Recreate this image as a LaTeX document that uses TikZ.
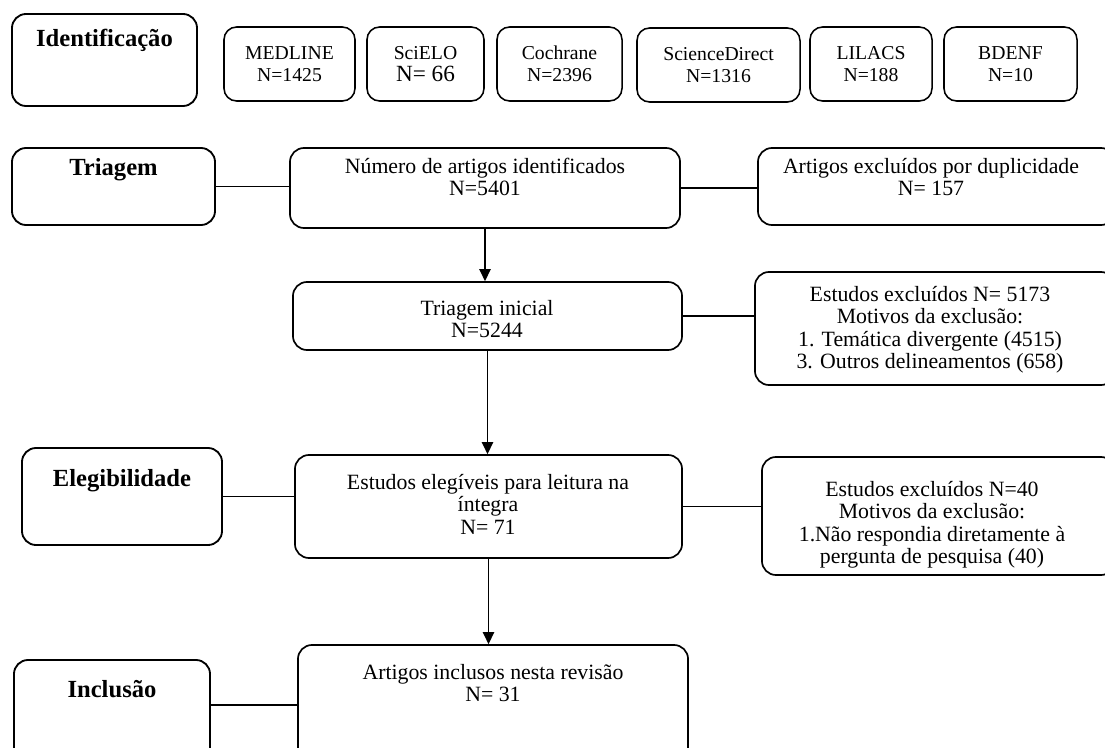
\documentclass[tikz,border=0pt]{standalone}
\usepackage{fontspec}
\setmainfont{Liberation Serif}
\usetikzlibrary{arrows.meta}
\tikzset{
    stage/.style={rectangle, draw, line width=1.3pt, rounded corners=10pt, inner sep=0},
    base/.style={rectangle, draw, line width=1.1pt, rounded corners=9pt,
                minimum height = 1.85cm, inner sep = 0},
    flow/.style={rectangle, draw, line width=1.2pt, rounded corners=10pt, inner sep=0},
    stagestyle/.style={anchor=center, font=\fontsize{17.5}{19}\selectfont\bfseries},
    basestyle/.style={anchor=center, align=center, font=\fontsize{14}{15.6}\selectfont},
    flowstyle/.style={anchor=center, align=center, font=\fontsize{15.5}{16}\selectfont},
    link/.style={line width=1.2pt},
    advance/.style={line width=1.2pt, -{Triangle[length=8.5pt, width=8pt]}},
}
\newcommand{\stageText}[3]{%
    \node[stagestyle] (#1T) at ([yshift=-#2]#1.north) {#3};
}
\newcommand{\baseText}[2]{%
    \node[basestyle] (#1T) at (#1.center) {#2};
}

\begin{document}
\begin{tikzpicture}[x=0.025cm, y=-0.025cm]
        \useasboundingbox (0,0) rectangle (1105,748);
        %
        % First line
        \node[stage, minimum width = 4.625cm, minimum height = 2.3cm] (ident) at (104.5,60) {};
        \stageText{ident}{0.68cm}{Identificação}
        \node[base, minimum width = 3.275cm] (medline) at (289.5,64) {};
        \baseText{medline}{MEDLINE\\N=1425}
        \node[base, minimum width = 2.925cm] (scielo) at (425.5,64) {};
        \baseText{scielo}{SciELO\\{\fontsize{16.5}{15.6}\selectfont N= 66}}
        \node[base, minimum width = 3.125cm] (cochrane) at (559.5,64) {};
        \baseText{cochrane}{Cochrane\\N=2396}
        \node[base, minimum width = 4.075cm] (sdirect) at (718.5,65) {};
        \baseText{sdirect}{ScienceDirect\\N=1316}
        \node[base, minimum width = 3.05cm] (lilacs) at (871,64) {};
        \baseText{lilacs}{LILACS\\N=188}
        \node[base, minimum width = 3.325cm] (bdenf) at (1010.5,64) {};
        \baseText{bdenf}{BDENF\\N=10}
        %
        %
        % Second line
        \node[stage, minimum width = 5.075cm, minimum height = 1.925cm] (triagem) at (113.5,186.5) {};
        \stageText{triagem}{0.56cm}{Triagem}
        \node[flow, minimum width = 9.75cm, minimum height = 2cm] (numero) at (485,188) {};
        \node[flowstyle] (numeroT) at (485,177) {Número de artigos identificados\\N=5401};
        \node[flow, minimum width = 8.925cm, minimum height = 1.925cm] (dup) at (936.5,186.5) {};
        \node[flowstyle] (dupT) at (931,177) {Artigos excluídos por duplicidade\\N= 157};
        \draw[link] (triagem.east) -- (triagem.east -| numero.west);
        \draw[link] (numero.east) -- (numero.east -| dup.west);
        %
        %
        % Third line
        \node[flow, minimum width = 9.725cm, minimum height = 1.7cm] (inicial) at (487.5,316) {};
        \node[flowstyle] (inicialT) at (487,319) {Triagem inicial\\N=5244};
        \node[flow, minimum width = 9cm, minimum height = 2.825cm] (excl1) at (935,328.5) {};
        \node[flowstyle] (excl1T) at (930,329.5) {Estudos excluídos N= 5173\\Motivos da exclusão:\\1. Temática divergente (4515)\\3. Outros delineamentos (658)};
        \draw[advance] (numero.south) -- (numero.south |- inicial.north);
        \draw[link] (inicial.east) -- (inicial.east -| excl1.west);
        %
        %
        % Fourth line
        \node[stage, minimum width = 5cm, minimum height = 2.425cm] (eleg) at (122,496.5) {};
        \stageText{eleg}{0.83cm}{Elegibilidade}
        \node[flow, minimum width = 9.675cm, minimum height = 2.575cm] (elegiveis) at (488.5,506.5) {};
        \node[flowstyle] (elegiveisT) at (488,504) {Estudos elegíveis para leitura na\\íntegra\\N= 71};
        \node[flow, minimum width = 8.825cm, minimum height = 2.95cm] (excl2) at (938.5,516) {};
        \node[flowstyle] (excl2T) at (932,525) {Estudos excluídos N=40\\Motivos da exclusão:\\1.Não respondia diretamente à\\pergunta de pesquisa (40)};
        \draw[advance] (inicial.south) -- (inicial.south |- elegiveis.north);
        \draw[link] (eleg.east) -- (eleg.east -| elegiveis.west);
        \draw[link] (elegiveis.east) -- (elegiveis.east -| excl2.west);
        %
        %
        % Fifth line
        \node[stage, minimum width = 4.9cm, minimum height = 2.625cm] (inclusao) at (112,712.5) {};
        \stageText{inclusao}{0.75cm}{Inclusão}
        \node[flow, minimum width = 9.75cm, minimum height = 3cm] (inclusos) at (493,705) {};
        \node[flowstyle] (inclusosT) at (493,683) {Artigos inclusos nesta revisão\\N= 31};
        \draw[advance] (elegiveis.south) -- (elegiveis.south |- inclusos.north);
        \draw[link] (inclusao.east |- inclusos.west) -- (inclusos.west);
    \end{tikzpicture}
\end{document}
